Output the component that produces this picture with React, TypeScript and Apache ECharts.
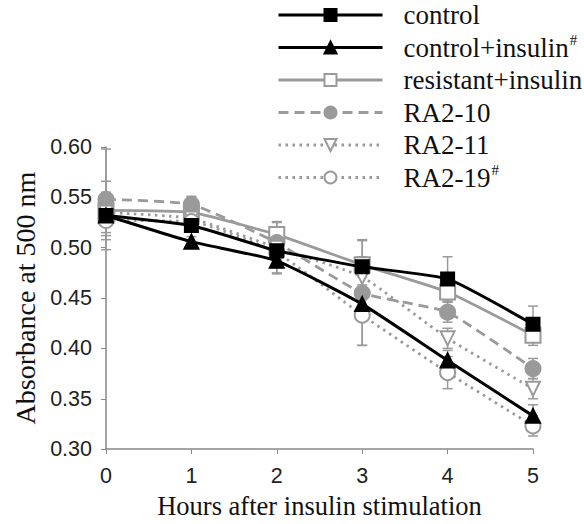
import React, { useEffect, useRef } from "react";
import * as echarts from "echarts";

const hours = [0, 1, 2, 3, 4, 5];
const seriesNames = ["control", "control+insulin#", "resistant+insulin", "RA2-10", "RA2-11", "RA2-19#"];
const controlVals = [0.532, 0.522, 0.497, 0.481, 0.469, 0.424];
const controlInsulinVals = [0.532, 0.506, 0.487, 0.444, 0.388, 0.333];
const resistantVals = [0.537, 0.535, 0.513, 0.483, 0.456, 0.413];
const ra210Vals = [0.548, 0.543, 0.505, 0.455, 0.436, 0.380];
const ra211Vals = [0.535, 0.529, 0.500, 0.471, 0.410, 0.360];
const ra219Vals = [0.527, 0.526, 0.495, 0.433, 0.376, 0.323];

const controlErr = [0.006, 0.006, 0.01, 0.01, 0.022, 0.018];
const controlInsulinErr = [0.005, 0.005, 0.012, 0.01, 0.01, 0.011];
const resistantErr = [0.029, 0.015, 0.012, 0.025, 0.01, 0.01];
const ra210Err = [0.05, 0.008, 0.01, 0.052, 0.01, 0.01];
const ra211Err = [0.02, 0.01, 0.026, 0.015, 0.01, 0.01];
const ra219Err = [0.015, 0.01, 0.015, 0.03, 0.016, 0.01];

const yTicks = [0.3, 0.35, 0.4, 0.45, 0.5, 0.55, 0.6];

const BLACK = "#000000";
const GRAY = "#9a9a9a";

export default function App() {
  const ref = useRef<HTMLDivElement>(null);
  useEffect(() => {
    if (!ref.current) return;
    const chart = echarts.init(ref.current, null, { renderer: "svg" });
    const values = [controlVals, controlInsulinVals, resistantVals, ra210Vals, ra211Vals, ra219Vals];
    const errs = [controlErr, controlInsulinErr, resistantErr, ra210Err, ra211Err, ra219Err];
    const styles = [
      { color: BLACK, width: 3, type: "solid", symbol: "rect", size: 13, fill: BLACK, rotate: 0 },
      { color: BLACK, width: 3, type: "solid", symbol: "triangle", size: 14, fill: BLACK, rotate: 0 },
      { color: GRAY, width: 2.8, type: "solid", symbol: "rect", size: 15, fill: "#ffffff", rotate: 0 },
      { color: GRAY, width: 2.8, type: [10, 6], symbol: "circle", size: 15, fill: GRAY, rotate: 0 },
      { color: GRAY, width: 2.8, type: [2.5, 4.5], symbol: "triangle", size: 14, fill: "#ffffff", rotate: 180 },
      { color: GRAY, width: 2.8, type: [2.5, 4.5], symbol: "circle", size: 15, fill: "#ffffff", rotate: 0 },
    ];

    const errSeries: any[] = values.map((vals, i) => ({
      type: "custom",
      name: "err" + i,
      z: 1,
      silent: true,
      data: hours.map((h, j) => [h, vals[j] - errs[i][j], vals[j] + errs[i][j]]),
      renderItem: (params: any, api: any) => {
        const lo = api.coord([api.value(0), api.value(1)]);
        const hi = api.coord([api.value(0), api.value(2)]);
        const cap = 5;
        const st = { stroke: GRAY, lineWidth: 1.5 };
        return {
          type: "group",
          children: [
            { type: "line", shape: { x1: lo[0], y1: lo[1], x2: hi[0], y2: hi[1] }, style: st },
            { type: "line", shape: { x1: lo[0] - cap, y1: lo[1], x2: lo[0] + cap, y2: lo[1] }, style: st },
            { type: "line", shape: { x1: hi[0] - cap, y1: hi[1], x2: hi[0] + cap, y2: hi[1] }, style: st },
          ],
        };
      },
    }));

    const lineSeries: any[] = values.map((vals, i) => {
      const s = styles[i];
      return {
        type: "line",
        name: seriesNames[i],
        z: 3 + (i < 2 ? 1 : 0),
        data: hours.map((h, j) => [h, vals[j]]),
        smooth: 0.15,
        symbol: s.symbol,
        symbolSize: s.size,
        symbolRotate: s.rotate,
        showAllSymbol: true,
        lineStyle: { color: s.color, width: s.width, type: s.type },
        itemStyle: { color: s.fill, borderColor: s.color, borderWidth: 2 },
      };
    });

    chart.setOption({
      animation: false,
      backgroundColor: "#ffffff",
      grid: { left: 106, right: 51, top: 147, bottom: 69, containLabel: false },
      legend: {
        data: seriesNames,
        orient: "vertical",
        left: 277,
        top: 0,
        padding: 0,
        itemWidth: 104,
        itemHeight: 15,
        itemGap: 2.5,
        selectedMode: false,
        lineStyle: { width: 3 },
        formatter: (name: string) =>
          name.endsWith("#") ? "{n|" + name.slice(0, -1) + "}{s|#}" : "{n|" + name + "}",
        textStyle: {
          padding: [0, 0, 0, 16],
          lineHeight: 30,
          fontSize: 27,
          fontFamily: "Liberation Serif",
          rich: {
            n: { fontFamily: "Liberation Serif", fontSize: 27, color: "#111", lineHeight: 30 },
            s: { fontFamily: "Liberation Serif", fontSize: 15, color: "#111", lineHeight: 30, verticalAlign: "top", padding: [0, 0, 12, 1] },
          },
        },
      },
      xAxis: {
        type: "value",
        min: 0,
        max: 5,
        interval: 1,
        name: "Hours after insulin stimulation",
        nameLocation: "middle",
        nameGap: 40,
        nameTextStyle: { fontFamily: "Liberation Serif", fontSize: 26.5, color: "#111" },
        axisLine: { lineStyle: { color: "#888", width: 1.5 } },
        axisTick: { show: true, inside: false, length: 5, lineStyle: { color: "#888" } },
        axisLabel: { fontFamily: "Liberation Sans", fontSize: 21.5, color: "#222", margin: 16 },
        splitLine: { show: false },
      },
      yAxis: {
        type: "value",
        min: 0.3,
        max: 0.6,
        interval: 0.05,
        name: "Absorbance at 500 nm",
        nameLocation: "middle",
        nameGap: 66,
        nameTextStyle: { fontFamily: "Liberation Serif", fontSize: 28, color: "#111" },
        axisLine: { show: true, lineStyle: { color: "#888", width: 1.5 } },
        axisTick: { show: true, inside: false, length: 5, lineStyle: { color: "#888" } },
        axisLabel: {
          fontFamily: "Liberation Sans",
          fontSize: 21.5,
          color: "#222",
          margin: 14,
          formatter: (v: number) => (yTicks.some((t) => Math.abs(t - v) < 1e-9) ? v.toFixed(2) : ""),
        },
        splitLine: { show: false },
      },
      series: [...errSeries, ...lineSeries],
    });
    return () => chart.dispose();
  }, []);
  return <div ref={ref} style={{ width: 584, height: 524, position: "absolute", left: 0, top: 0 }} />;
}
